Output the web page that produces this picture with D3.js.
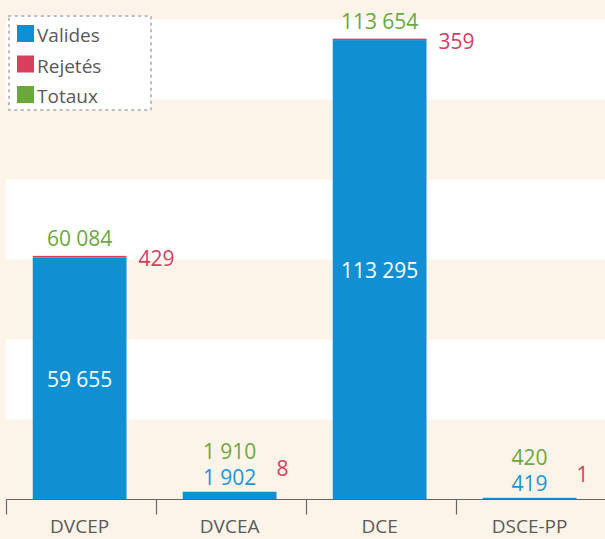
<!DOCTYPE html>
<html>
<head>
<meta charset="utf-8">
<script src="https://cdn.jsdelivr.net/npm/d3@7"></script>
<style>
    body { margin: 0; background: #fdf4e9; }
    svg { display: block; font-family: "Open Sans", sans-serif; }
</style>
</head>
<body>
<svg id="chart" width="605" height="539"></svg>
<script>
// data
var categories = ["DVCEP", "DVCEA", "DCE", "DSCE-PP"];
var valides = [59655, 1902, 113295, 419];
var rejetes = [429, 8, 359, 1];
var totaux = [60084, 1910, 113654, 420];
var seriesNames = ["Valides", "Rejetés", "Totaux"];
var gridTicks = [0, 20000, 40000, 60000, 80000, 100000, 120000];

var colors = {
    Valides: "#1090d2",
    "Rejetés": "#d5405f",
    Totaux: "#69a83b"
};
var textColors = {
    Valides: "#1a96d4",
    "Rejetés": "#d4405e",
    Totaux: "#6aa842"
};

var svg = d3.select("#chart");
var W = 605, H = 539;
var left = 6.5, base = 499.5;

var fmt = function (v) {
    return d3.format(",")(v).replace(/,/g, " ");
};

var x = d3.scaleBand().domain(categories).range([left, left + 600]).padding(0);
var y = d3.scaleLinear().domain([0, 120000]).range([base, base - 120 * 4.055]);
// background stripes are on a slightly tighter step than the bars
var gy = d3.scaleLinear().domain([0, 120000]).range([base, base - 480]);

// background bands
svg.append("rect").attr("x", 0).attr("y", 0).attr("width", W).attr("height", H).attr("fill", "#fdf4e9");
svg.selectAll("rect.band")
    .data(gridTicks.slice(0, -1))
    .enter().append("rect")
    .attr("class", "band")
    .attr("x", 6)
    .attr("y", function (d) { return gy(d + 20000); })
    .attr("width", W - 6)
    .attr("height", function (d) { return gy(d) - gy(d + 20000); })
    .attr("fill", function (d, i) { return i % 2 === 0 ? "#fdf4e9" : "#ffffff"; });

var bw = x.bandwidth();
var barOff = bw * 0.175, barW = bw * 0.625;

var rows = categories.map(function (c, i) {
    return {cat: c, v: valides[i], r: rejetes[i], t: totaux[i]};
});

var g = svg.append("g");
var bars = g.selectAll("g.bar").data(rows).enter().append("g").attr("class", "bar");

bars.append("rect")
    .attr("x", function (d) { return x(d.cat) + barOff; })
    .attr("y", function (d) { return y(d.v); })
    .attr("width", barW)
    .attr("height", function (d) { return y(0) - y(d.v); })
    .attr("fill", colors.Valides);

bars.append("rect")
    .attr("x", function (d) { return x(d.cat) + barOff; })
    .attr("y", function (d) { return y(d.v + d.r); })
    .attr("width", barW)
    .attr("height", function (d) { return y(d.v) - y(d.v + d.r); })
    .attr("fill", colors["Rejetés"]);

// labels
var fs = 21;
bars.each(function (d) {
    var sel = d3.select(this);
    var cx = x(d.cat) + barOff + barW / 2;
    var top = y(d.t);
    var segH = y(0) - y(d.v);
    if (segH > 40) {
        // tall bar: value inside, total above, rejected at right
        sel.append("text")
            .attr("x", cx).attr("y", (y(0) + y(d.v)) / 2 + 8)
            .attr("text-anchor", "middle").attr("font-size", fs)
            .attr("fill", "#ffffff").text(fmt(d.v));
        sel.append("text")
            .attr("x", cx).attr("y", top - 10)
            .attr("text-anchor", "middle").attr("font-size", fs)
            .attr("fill", textColors.Totaux).text(fmt(d.t));
        sel.append("text")
            .attr("x", x(d.cat) + barOff + barW + 12).attr("y", top + 10)
            .attr("font-size", fs)
            .attr("fill", textColors["Rejetés"]).text(fmt(d.r));
    } else {
        // small bar: everything stacked above
        sel.append("text")
            .attr("x", cx).attr("y", top - 7)
            .attr("text-anchor", "middle").attr("font-size", fs)
            .attr("fill", textColors.Valides).text(fmt(d.v));
        sel.append("text")
            .attr("x", cx).attr("y", top - 33)
            .attr("text-anchor", "middle").attr("font-size", fs)
            .attr("fill", textColors.Totaux).text(fmt(d.t));
        sel.append("text")
            .attr("x", x(d.cat) + barOff + barW).attr("y", top - 16)
            .attr("font-size", fs)
            .attr("fill", textColors["Rejetés"]).text(fmt(d.r));
    }
});

// x axis
var axis = svg.append("g");
axis.append("line")
    .attr("x1", left).attr("x2", W).attr("y1", base).attr("y2", base)
    .attr("stroke", "#666").attr("stroke-width", 1.2);
axis.selectAll("line.tick")
    .data(categories)
    .enter().append("line")
    .attr("class", "tick")
    .attr("x1", function (d) { return x(d); })
    .attr("x2", function (d) { return x(d); })
    .attr("y1", base).attr("y2", base + 15)
    .attr("stroke", "#666").attr("stroke-width", 1.2);
axis.selectAll("text")
    .data(categories)
    .enter().append("text")
    .attr("x", function (d) { return x(d) + barOff + barW / 2; })
    .attr("y", base + 33)
    .attr("text-anchor", "middle")
    .attr("font-size", 19)
    .attr("fill", "#5a5a5a")
    .text(function (d) { return d; });

// legend
var leg = svg.append("g");
leg.append("rect")
    .attr("x", 9).attr("y", 16).attr("width", 142).attr("height", 94)
    .attr("fill", "#ffffff")
    .attr("stroke", "#bbbbbb").attr("stroke-width", 2)
    .attr("stroke-dasharray", "1.5,5").attr("stroke-linecap", "round");
var items = leg.selectAll("g.item").data(seriesNames).enter().append("g")
    .attr("class", "item")
    .attr("transform", function (d, i) { return "translate(17," + (25 + i * 30.5) + ")"; });
items.append("rect")
    .attr("width", 17).attr("height", 17)
    .attr("fill", function (d) { return colors[d]; });
items.append("text")
    .attr("x", 20).attr("y", 17)
    .attr("font-size", 19)
    .attr("fill", "#595959")
    .text(function (d) { return d; });
</script>
</body>
</html>
